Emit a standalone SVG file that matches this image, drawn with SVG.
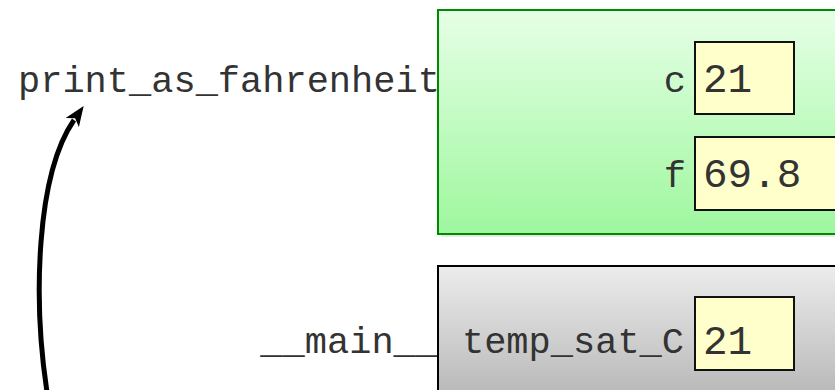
<svg xmlns="http://www.w3.org/2000/svg" width="835" height="390" viewBox="0 0 835 390">
  <defs>
    <linearGradient id="gGreen" x1="0" y1="0" x2="0" y2="1">
      <stop offset="0" stop-color="#e6ffe6"/>
      <stop offset="1" stop-color="#9ef79e"/>
    </linearGradient>
    <linearGradient id="gGray" x1="0" y1="0" x2="0" y2="1">
      <stop offset="0" stop-color="#ececec"/>
      <stop offset="1" stop-color="#b4b4b4"/>
    </linearGradient>
    <marker id="arrow" markerUnits="userSpaceOnUse" viewBox="0 0 20 16" refX="3" refY="8" markerWidth="20" markerHeight="16" orient="auto">
      <path d="M0,0 L20,8 L0,16 L5,8 z" fill="#000"/>
    </marker>
    <style>
      .lbl { font-family: "Liberation Mono", "Courier New", monospace; font-size: 37px; fill: #333; }
      .val { font-family: "Liberation Mono", "Courier New", monospace; font-size: 41px; fill: #333; }
      .cell { fill: #ffffcc; stroke: #111; stroke-width: 2; }
    </style>
  </defs>

  <rect x="0" y="0" width="835" height="390" fill="#ffffff"/>

  <g id="frame-print_as_fahrenheit">
    <text class="lbl" x="18" y="92">print_as_fahrenheit</text>
    <rect x="441" y="13" width="410" height="224" fill="#e8e8e8"/>
    <rect x="438" y="10" width="410" height="224" fill="url(#gGreen)" stroke="#008a00" stroke-width="2"/>
    <g id="var-c">
      <text class="lbl" x="686" y="92" text-anchor="end">c</text>
      <rect class="cell" x="695" y="42" width="99" height="72"/>
      <text class="val" x="703" y="92">21</text>
    </g>
    <g id="var-f">
      <text class="lbl" x="686" y="187" text-anchor="end">f</text>
      <rect class="cell" x="695" y="137" width="160" height="73"/>
      <text class="val" x="703" y="187">69.8</text>
    </g>
  </g>

  <g id="frame-main">
    <text class="lbl" x="438" y="353" text-anchor="end">__main__</text>
    <rect x="438" y="266" width="410" height="140" fill="url(#gGray)" stroke="#000" stroke-width="2"/>
    <g id="var-temp_sat_C">
      <text class="lbl" x="684" y="353" text-anchor="end">temp_sat_C</text>
      <rect class="cell" x="695" y="297" width="99" height="73"/>
      <text class="val" x="703" y="354">21</text>
    </g>
  </g>

  <g id="connectors">
    <path d="M47,392 C33,300 36,175 74,120" fill="none" stroke="#000" stroke-width="5" marker-end="url(#arrow)"/>
  </g>
</svg>
